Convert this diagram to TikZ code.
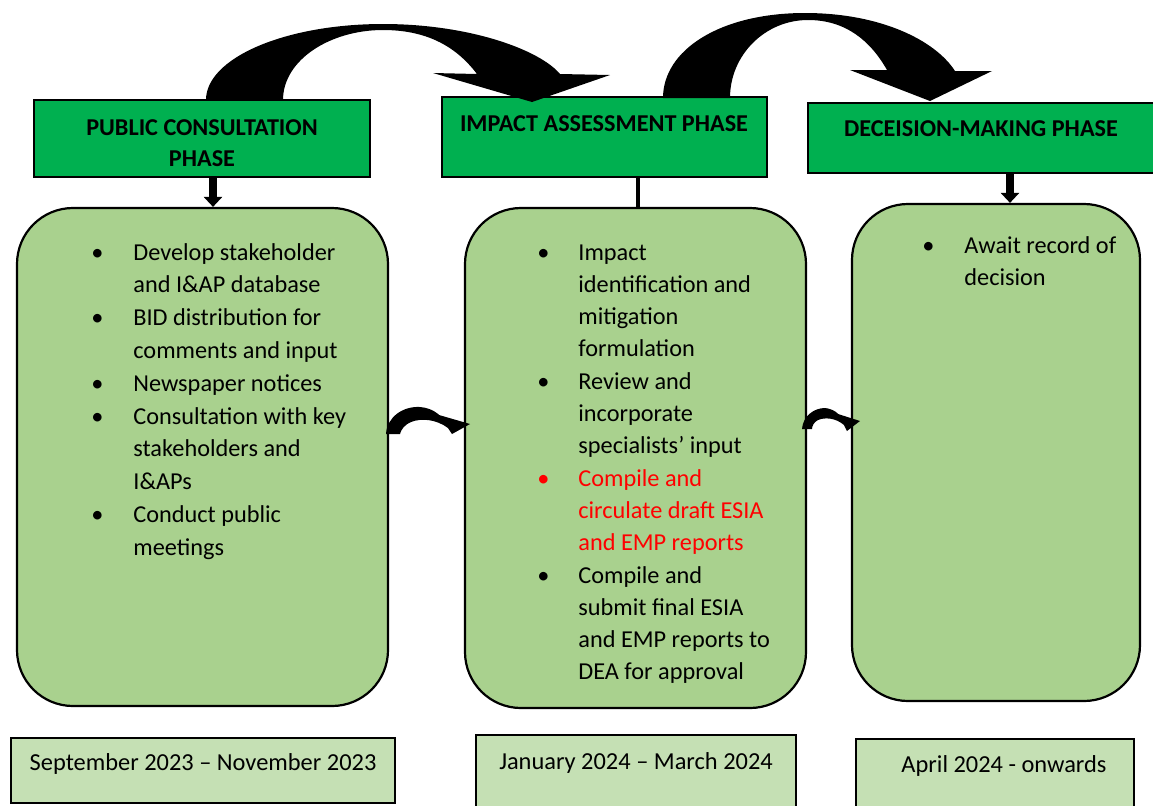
\documentclass[tikz,border=0pt]{standalone}
\usepackage{fontspec}
\setmainfont{Carlito}
\usetikzlibrary{arrows.meta}

\definecolor{phasegreen}{HTML}{00B050}
\definecolor{boxgreen}{HTML}{A9D18E}
\definecolor{dategreen}{HTML}{C5E0B4}
\definecolor{alertred}{HTML}{FF0000}

\newcommand\bodyfont{\fontsize{12.15pt}{16.4pt}\selectfont}
\newcommand\itembul[1]{\makebox[#1][l]{\makebox[0pt]{\textbullet}}}

\begin{document}
\begin{tikzpicture}[x=0.5pt,y=-0.5pt,
  phasebox/.style={draw=black, line width=1.1pt, fill=phasegreen, rectangle, inner sep=0pt},
  stagebox/.style={draw=black, line width=1.1pt, fill=boxgreen, rectangle, rounded corners=28pt, inner sep=0pt},
  datebox/.style={draw=black, line width=1.1pt, fill=dategreen, rectangle, inner sep=0pt},
  phasetext/.style={font=\fontsize{12.1pt}{15.5pt}\selectfont\bfseries, anchor=base, inner sep=0pt},
  listtext/.style={font=\bodyfont, anchor=base west, inner sep=0pt},
  datetext/.style={font=\fontsize{12.2pt}{15pt}\selectfont, anchor=base, inner sep=0pt},
  dnarrow/.style={line width=4pt, -{Triangle[width=9pt,length=5pt]}},
  swoosh/.style={fill=black}
]
\useasboundingbox (0,0) rectangle (1153,805);

% phase headers
\node[phasebox, minimum width=168pt, minimum height=38.5pt] (h1) at (202,138.5) {};
\node[phasebox, minimum width=162.5pt, minimum height=40pt] (h2) at (604.5,137) {};
\node[phasebox, minimum width=173.5pt, minimum height=35pt] (h3) at (981.5,138) {};

\node[phasetext] (h1t) at (202,135) {\begin{tabular}[t]{@{}c@{}}PUBLIC CONSULTATION\\PHASE\end{tabular}};
\node[phasetext] (h2t) at (604,131) {IMPACT ASSESSMENT PHASE};
\node[phasetext] (h3t) at (981,136) {DECEISION-MAKING PHASE};

% activity panels
\node[stagebox, minimum width=185.5pt, minimum height=249pt] (b1) at (202.5,457) {};
\node[stagebox, minimum width=170.5pt, minimum height=250pt] (b2) at (635.5,458) {};
\node[stagebox, minimum width=144pt, minimum height=248.5pt] (b3) at (996,452.5) {};

\node[listtext] (b1t) at (97,260) {\begin{tabular}[t]{@{}l@{}l@{}}
\itembul{18pt} & Develop stakeholder\\
 & and I\&AP database\\
\itembul{18pt} & BID distribution for\\
 & comments and input\\
\itembul{18pt} & Newspaper notices\\
\itembul{18pt} & Consultation with key\\
 & stakeholders and\\
 & I\&APs\\
\itembul{18pt} & Conduct public\\
 & meetings
\end{tabular}};

\node[listtext, font=\fontsize{12.15pt}{16.15pt}\selectfont] (b2t) at (543,260) {\begin{tabular}[t]{@{}l@{}l@{}}
\itembul{17.5pt} & Impact\\
 & identification and\\
 & mitigation\\
 & formulation\\
\itembul{17.5pt} & Review and\\
 & incorporate\\
 & specialists’ input\\
\color{alertred}\itembul{17.5pt} & \color{alertred}Compile and\\
 & \color{alertred}circulate draft ESIA\\
 & \color{alertred}and EMP reports\\
\itembul{17.5pt} & Compile and\\
 & submit final ESIA\\
 & and EMP reports to\\
 & DEA for approval
\end{tabular}};

\node[listtext, font=\fontsize{12.15pt}{16pt}\selectfont] (b3t) at (928,253) {\begin{tabular}[t]{@{}l@{}l@{}}
\itembul{18pt} & Await record of\\
 & decision
\end{tabular}};

% timeline boxes
\node[datebox, minimum width=192pt, minimum height=32.5pt] (d1) at (203,770.5) {};
\node[datebox, minimum width=160pt, minimum height=37pt] (d2) at (636,772) {};
\node[datebox, minimum width=139pt, minimum height=35pt] (d3) at (995,774) {};

\node[datetext] (d1t) at (203,770) {September 2023 – November 2023};
\node[datetext] (d2t) at (636,769.5) {January 2024 – March 2024};
\node[datetext] (d3t) at (1004,772) {April 2024 - onwards};

% header to panel arrows
\draw[dnarrow] ([xshift=5.25pt]b1.north |- h1.south) -- ([xshift=5.25pt]b1.north);
\draw[line width=2pt] ([xshift=1pt]b2.north |- h2.south) -- ([xshift=1pt]b2.north);
\draw[dnarrow] ([xshift=7pt]b3.north |- h3.south) -- ([xshift=7pt]b3.north);

% small curved arrows between panels
\fill[swoosh] (386,434) .. controls (387,417) and (403,406) .. (420,407)
  .. controls (432,408) and (439,414) .. (443,419)
  -- (439,415) -- (470,424) -- (452,434) -- (448,428)
  .. controls (436,419) and (421,418) .. (411,422)
  .. controls (404,425) and (401,430) .. (400,434) -- cycle;
\fill[swoosh] (802,429) .. controls (803,416) and (814,408) .. (825,408)
  .. controls (834,409) and (839,414) .. (842,418)
  -- (838,414) -- (860,421) -- (847,431) -- (844,425)
  .. controls (836,418) and (825,417) .. (818,420)
  .. controls (814,422) and (812,426) .. (812,429) -- cycle;

% large curved arrows between phases
\fill[swoosh] (206,100) .. controls (206,58) and (285,24) .. (383,24)
  .. controls (470,24) and (540,50) .. (560,74)
  -- (610,75) -- (532,102) -- (433,73) -- (477,74)
  .. controls (455,45) and (425,30) .. (383,30)
  .. controls (330,30) and (283,60) .. (283,100) -- cycle;
\fill[swoosh] (663,98) .. controls (663,50) and (720,13) .. (805,13)
  .. controls (880,13) and (935,40) .. (955,71)
  -- (992,71) -- (930,101) -- (850,70) -- (887,70)
  .. controls (870,40) and (845,20) .. (808,20)
  .. controls (765,20) and (730,55) .. (730,98) -- cycle;
\end{tikzpicture}
\end{document}
